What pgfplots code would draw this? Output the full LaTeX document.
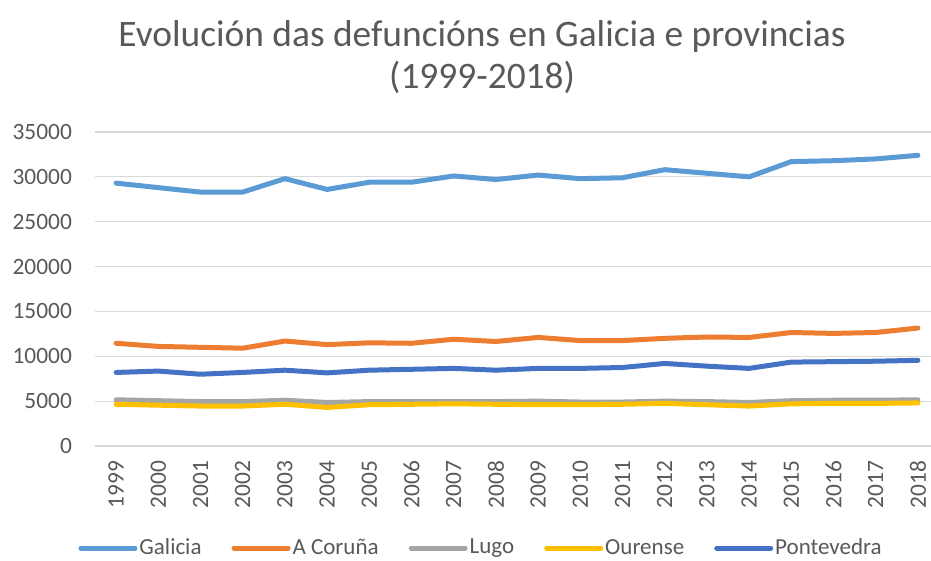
\documentclass[border=0pt]{standalone}
\usepackage{pgfplots}
\pgfplotsset{compat=1.18}
\usepackage{fontspec}
\setmainfont{Carlito}
\usetikzlibrary{calc}
\definecolor{cGal}{HTML}{5B9BD5}
\definecolor{cCor}{HTML}{ED7D31}
\definecolor{cLug}{HTML}{A5A5A5}
\definecolor{cOur}{HTML}{FFC000}
\definecolor{cPon}{HTML}{4472C4}
\definecolor{txt}{HTML}{595959}
\definecolor{grd}{HTML}{D9D9D9}
\begin{document}
\begin{tikzpicture}
\begin{axis}[
  name=ax,
  scale only axis,
  width=418pt, height=157pt,
  xmin=-0.5, xmax=19.31,
  ymin=0, ymax=35000,
  ytick={0,5000,10000,15000,20000,25000,30000,35000},
  xtick={0,...,19},
  xticklabels={1999,2000,2001,2002,2003,2004,2005,2006,2007,2008,2009,2010,2011,2012,2013,2014,2015,2016,2017,2018},
  x tick label style={rotate=90,anchor=east,font=\fontsize{11.7}{12}\selectfont,text=txt},
  y tick label style={font=\fontsize{11.7}{12}\selectfont,text=txt},
  /pgf/number format/assume math mode=true,
  scaled y ticks=false,
  yticklabel={\pgfmathprintnumber[1000 sep={},assume math mode=true]{\tick}},
  ymajorgrids,
  major grid style={grd,line width=0.6pt},
  axis line style={draw=none},
  major tick length=0pt,
  tick style={draw=none},
  xticklabel shift=4pt,
  yticklabel shift=8pt,
  clip=false,
  title={Evolución das defuncións en Galicia e provincias\\(1999-2018)},
  title style={at={(0.463,1.20)},anchor=center,align=center,font=\fontsize{18.7}{21}\selectfont,text=txt},
  legend columns=5,
  legend style={at={(0.463,-0.325)},anchor=center,draw=none,fill=none,font=\fontsize{11.5}{12}\selectfont,text=txt,
    /tikz/every even column/.append style={column sep=13pt},
    /tikz/every odd column/.append style={column sep=-1pt}},
  legend image code/.code={\draw[#1,line width=2.5pt] (0pt,0pt) -- (27pt,0pt);},
  every axis plot/.append style={line width=2.5pt, line join=round, line cap=round, mark=none},
]
\addplot[cGal] coordinates {(0,29300)(1,28800)(2,28300)(3,28300)(4,29800)(5,28600)(6,29400)(7,29400)(8,30100)(9,29700)(10,30200)(11,29800)(12,29900)(13,30800)(14,30400)(15,30000)(16,31700)(17,31800)(18,32000)(19,32400)};
\addlegendentry{Galicia}
\addplot[cCor] coordinates {(0,11450)(1,11100)(2,11000)(3,10900)(4,11700)(5,11300)(6,11500)(7,11450)(8,11900)(9,11650)(10,12100)(11,11750)(12,11750)(13,12000)(14,12150)(15,12100)(16,12650)(17,12550)(18,12650)(19,13150)};
\addlegendentry{A Coruña}
\addplot[cLug] coordinates {(0,5150)(1,5050)(2,4950)(3,4950)(4,5100)(5,4850)(6,4950)(7,4950)(8,4950)(9,4950)(10,5000)(11,4900)(12,4900)(13,5000)(14,4950)(15,4850)(16,5050)(17,5100)(18,5100)(19,5150)};
\addlegendentry{Lugo}
\addplot[cOur] coordinates {(0,4650)(1,4550)(2,4450)(3,4450)(4,4650)(5,4300)(6,4600)(7,4650)(8,4700)(9,4650)(10,4600)(11,4600)(12,4650)(13,4750)(14,4600)(15,4450)(16,4700)(17,4750)(18,4750)(19,4800)};
\addlegendentry{Ourense}
\addplot[cPon] coordinates {(0,8200)(1,8350)(2,8000)(3,8200)(4,8450)(5,8150)(6,8450)(7,8550)(8,8650)(9,8450)(10,8650)(11,8650)(12,8750)(13,9200)(14,8900)(15,8650)(16,9350)(17,9400)(18,9450)(19,9550)};
\addlegendentry{Pontevedra}
\end{axis}
\pgfresetboundingbox
\path ($(ax.south west)+(-47.5pt,-57.5pt)$) rectangle ++(465.5pt,280.5pt);
\end{tikzpicture}
\end{document}
